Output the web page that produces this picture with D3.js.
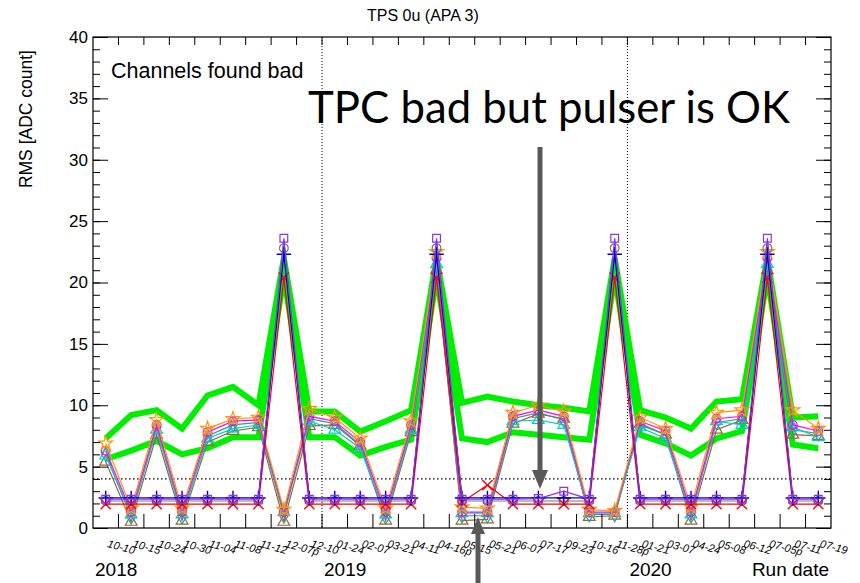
<!DOCTYPE html>
<html>
<head>
<meta charset="utf-8">
<script src="https://cdn.jsdelivr.net/npm/d3@7"></script>
<style>
  body { margin: 0; background: #fff; }
  svg { display: block; font-family: "Liberation Sans", Arial, sans-serif; }
</style>
</head>
<body>
<div id="chart"></div>
<script>
const W = 860;
const H = 583;
const margin = { top: 37, right: 29, bottom: 55, left: 93 };

// run dates (x categories)
const runDates = ["10-10", "10-15", "10-24", "10-30", "11-04", "11-08", "11-12", "12-07p",
  "12-10", "01-24", "02-07", "03-21", "04-11", "04-16p", "05-15", "05-21", "06-07", "07-17",
  "09-23", "10-16", "11-28p", "01-21", "03-07", "04-24", "05-08", "06-12", "07-05p", "07-11", "07-19"];

// year markers: first run of each year
const yearStarts = [
  { year: "2018", run: "10-10" },
  { year: "2019", run: "01-24" },
  { year: "2020", run: "01-21" }
];

const yMajorTicks = [0, 5, 10, 15, 20, 25, 30, 35, 40];
const badThreshold = 4;

// green reference band
const greenHigh = [7.3, 9.2, 9.6, 8.1, 10.8, 11.5, 10.0, 22.0, 9.5, 9.5, 7.85, 8.7, 9.6, 22.0, 10.2,
  10.7, 10.3, 10.0, 9.8, 9.5, 22.0, 9.6, 9.0, 8.1, 10.3, 10.5, 22.0, 9.0, 9.1];
const greenLow = [5.6, 6.3, 7.1, 6.0, 6.5, 7.4, 7.4, 20.5, 7.4, 7.4, 5.9, 6.6, 7.2, 20.5, 7.3,
  7.0, 7.8, 7.6, 7.4, 7.2, 20.5, 7.6, 6.9, 5.9, 7.3, 7.9, 20.5, 6.8, 6.5];

// channels, first group (bad when pulser runs are fine)
const chOrange = [6.9, 1.6, 8.8, 1.6, 8.1, 8.9, 9.0, 1.5, 9.7, 9.0, 7.3, 1.6, 8.7, 22.5, 1.7,
  1.6, 9.4, 10.0, 9.5, 1.5, 1.4, 9.0, 8.1, 1.7, 9.4, 9.6, 22.5, 9.6, 8.1];
const chMagenta = [6.3, 1.3, 8.4, 1.3, 7.8, 8.7, 8.8, 1.3, 9.1, 8.7, 7.0, 1.3, 8.4, 22.0, 1.3,
  1.3, 9.1, 9.6, 9.1, 1.3, 1.3, 8.7, 7.9, 1.3, 8.9, 9.1, 22.0, 8.4, 7.9];
const chTeal = [6.0, 0.9, 8.2, 0.9, 7.5, 8.4, 8.6, 1.0, 8.9, 8.5, 6.8, 0.9, 8.2, 20.8, 1.0,
  1.0, 8.9, 9.4, 8.8, 1.1, 1.1, 8.4, 7.6, 1.0, 8.6, 8.9, 20.8, 8.0, 7.7];
const chCyan = [5.9, 1.1, 8.0, 1.1, 7.3, 8.1, 8.4, 1.3, 8.7, 8.0, 6.5, 1.1, 8.0, 21.5, 1.2,
  1.2, 8.7, 8.8, 8.4, 1.2, 1.2, 8.2, 7.3, 1.1, 8.7, 8.4, 21.5, 8.2, 7.4];
const chBrown = [5.4, 0.5, 7.6, 0.6, 7.0, 7.9, 8.2, 0.5, 8.3, 8.4, 6.7, 0.6, 7.8, 21.0, 0.6,
  0.7, 8.5, 9.3, 8.9, 0.9, 1.0, 8.5, 7.6, 0.6, 8.0, 8.8, 21.0, 7.6, 7.5];

// channels, second group (low except pulser runs)
const chGray = [2.2, 2.2, 2.2, 2.2, 2.2, 2.2, 2.2, 22.8, 2.2, 2.2, 2.2, 2.2, 2.2, 22.8, 2.2,
  2.2, 2.2, 2.2, 2.2, 2.2, 22.8, 2.2, 2.2, 2.2, 2.2, 2.2, 22.8, 2.2, 2.2];
const chRed = [1.95, 1.95, 1.95, 1.95, 1.95, 1.95, 1.95, 20.4, 1.95, 1.95, 1.95, 1.95, 1.95, 20.4, 2.1,
  3.5, 1.95, 1.95, 1.95, 1.95, 20.4, 1.95, 1.95, 1.95, 1.95, 1.95, 20.4, 1.95, 1.95];
const chBlue = [2.45, 2.45, 2.45, 2.45, 2.45, 2.45, 2.45, 22.3, 2.45, 2.45, 2.45, 2.45, 2.45, 22.3, 2.45,
  2.45, 2.45, 2.45, 2.45, 2.45, 22.3, 2.45, 2.45, 2.45, 2.45, 2.45, 22.3, 2.45, 2.45];
const chViolet = [2.35, 2.35, 2.35, 2.35, 2.35, 2.35, 2.35, 23.6, 2.35, 2.35, 2.35, 2.35, 2.35, 23.6, 2.35,
  2.35, 2.35, 2.4, 3.0, 2.35, 23.6, 2.35, 2.35, 2.35, 2.35, 2.35, 23.6, 2.35, 2.35];

const symX = d3.symbolTimes || d3.symbolX || d3.symbolCross;

const channels = [
  { values: chBrown, color: "#996633", symbol: d3.symbolTriangle, open: true },
  { values: chTeal, color: "#339999", symbol: d3.symbolDiamond, open: true },
  { values: chCyan, color: "#00cccc", symbol: d3.symbolTriangle, open: true },
  { values: chMagenta, color: "#ff00ff", symbol: d3.symbolCircle, open: true },
  { values: chOrange, color: "#ff9900", symbol: d3.symbolStar, open: true },
  { values: chGray, color: "#777777", symbol: d3.symbolCircle, open: true },
  { values: chRed, color: "#ff0000", symbol: symX, open: false },
  { values: chBlue, color: "#0000cc", symbol: d3.symbolPlus, open: false },
  { values: chViolet, color: "#8833ee", symbol: d3.symbolSquare, open: true }
];

const svg = d3.select("#chart").append("svg")
  .attr("width", W)
  .attr("height", H)
  .style("background-color", "white");

const x = d3.scalePoint()
  .domain(runDates)
  .range([margin.left, W - margin.right])
  .padding(0.5);

const y = d3.scaleLinear()
  .domain([0, 40])
  .range([H - margin.bottom, margin.top]);

const step = x.step();
const binEdges = runDates.slice(1).map(d => x(d) - step / 2);

//Title
svg.append("text")
  .attr("x", 367)
  .attr("y", 21)
  .style("font-size", "16px")
  .text("TPS 0u (APA 3)");

//Reference lines
const yearRuns = yearStarts.slice(1).map(d => x(d.run) - step / 2);
svg.selectAll(".yearLine")
  .data(yearRuns)
  .enter()
  .append("line")
  .attr("x1", d => d)
  .attr("x2", d => d)
  .attr("y1", y(40))
  .attr("y2", y(0))
  .attr("stroke", "#000")
  .attr("stroke-width", 1)
  .attr("stroke-dasharray", "1,2");

svg.append("line")
  .attr("x1", x.range()[0])
  .attr("x2", x.range()[1])
  .attr("y1", y(badThreshold))
  .attr("y2", y(badThreshold))
  .attr("stroke", "#000")
  .attr("stroke-width", 1.3)
  .attr("stroke-dasharray", "1.5,2.5");

//Green band lines
const line = d3.line()
  .x((d, i) => x(runDates[i]))
  .y(d => y(d));

svg.selectAll(".band")
  .data([greenHigh, greenLow])
  .enter()
  .append("path")
  .attr("d", line)
  .attr("fill", "none")
  .attr("stroke", "#00ee00")
  .attr("stroke-width", 6)
  .attr("stroke-linejoin", "miter")
  .attr("stroke-miterlimit", 6);

//Channel lines and markers
channels.forEach(ch => {
  svg.append("path")
    .datum(ch.values)
    .attr("d", line)
    .attr("fill", "none")
    .attr("stroke", ch.color)
    .attr("stroke-width", 1.2);

  const sym = d3.symbol().type(ch.symbol).size(ch.open ? 60 : 70);
  svg.append("g")
    .selectAll("path")
    .data(ch.values)
    .enter()
    .append("path")
    .attr("transform", (d, i) => "translate(" + x(runDates[i]) + "," + y(d) + ")")
    .attr("d", sym)
    .attr("fill", "none")
    .attr("stroke", ch.color)
    .attr("stroke-width", ch.open ? 1.2 : 1.4);
});

//Frame
svg.append("rect")
  .attr("x", x.range()[0])
  .attr("y", y(40))
  .attr("width", x.range()[1] - x.range()[0])
  .attr("height", y(0) - y(40))
  .attr("fill", "none")
  .attr("stroke", "#000")
  .attr("stroke-width", 1.2);

//Y axes (ticks inside the frame)
const yLeft = svg.append("g")
  .attr("transform", "translate(" + margin.left + ",0)")
  .call(d3.axisLeft(y).tickValues(yMajorTicks).tickSizeInner(-15).tickSizeOuter(0).tickPadding(5));
yLeft.selectAll("text").style("font-size", "17px").attr("fill", "#000");

svg.append("g")
  .attr("transform", "translate(" + margin.left + ",0)")
  .call(d3.axisLeft(y).ticks(40).tickSizeInner(-7).tickSizeOuter(0).tickFormat(""));

svg.append("g")
  .attr("transform", "translate(" + (W - margin.right) + ",0)")
  .call(d3.axisRight(y).tickValues(yMajorTicks).tickSizeInner(-15).tickSizeOuter(0).tickFormat(""));

svg.append("g")
  .attr("transform", "translate(" + (W - margin.right) + ",0)")
  .call(d3.axisRight(y).ticks(40).tickSizeInner(-7).tickSizeOuter(0).tickFormat(""));

svg.selectAll(".domain").remove();
svg.selectAll(".tick line").attr("stroke", "#000");

//X ticks at bin edges
svg.selectAll(".xTickBottom")
  .data(binEdges)
  .enter()
  .append("line")
  .attr("x1", d => d)
  .attr("x2", d => d)
  .attr("y1", y(0))
  .attr("y2", y(0) - 14)
  .attr("stroke", "#000");

svg.selectAll(".xTickTop")
  .data(binEdges)
  .enter()
  .append("line")
  .attr("x1", d => d)
  .attr("x2", d => d)
  .attr("y1", y(40))
  .attr("y2", y(40) + 8)
  .attr("stroke", "#000");

//X labels (tilted)
svg.selectAll(".xLabel")
  .data(runDates)
  .enter()
  .append("text")
  .attr("transform", d => "translate(" + (x(d) + 1) + "," + 547 + ") rotate(15)")
  .style("font-size", "11px")
  .style("font-style", "italic")
  .text(d => d);

//Year labels
svg.selectAll(".year")
  .data(yearStarts)
  .enter()
  .append("text")
  .attr("x", (d, i) => i === 0 ? x.range()[0] + 2 : x(d.run) - step / 2 + 2)
  .attr("y", 576)
  .style("font-size", "19px")
  .text(d => d.year);

svg.append("text")
  .attr("x", 829)
  .attr("y", 576)
  .attr("text-anchor", "end")
  .style("font-size", "19px")
  .text("Run date");

//Y title
svg.append("text")
  .attr("transform", "translate(32,50) rotate(-90)")
  .attr("text-anchor", "end")
  .style("font-size", "17.5px")
  .text("RMS [ADC count]");

//Annotations
svg.append("text")
  .attr("x", 111)
  .attr("y", 78)
  .style("font-size", "21.5px")
  .text("Channels found bad");

svg.append("text")
  .attr("x", 308)
  .attr("y", 123)
  .attr("textLength", 482)
  .attr("lengthAdjust", "spacingAndGlyphs")
  .style("font-family", "Lato, 'Open Sans', sans-serif")
  .style("font-size", "44px")
  .text("TPC bad but pulser is OK");

const arrowColor = "#595959";
// down arrow
svg.append("line")
  .attr("x1", 540).attr("x2", 540)
  .attr("y1", 147).attr("y2", 472)
  .attr("stroke", arrowColor)
  .attr("stroke-width", 5);
svg.append("path")
  .attr("d", "M532,470 L548,470 L540,489 Z")
  .attr("fill", arrowColor);

// up arrow
svg.append("line")
  .attr("x1", 478).attr("x2", 478)
  .attr("y1", 583).attr("y2", 532)
  .attr("stroke", arrowColor)
  .attr("stroke-width", 5);
svg.append("path")
  .attr("d", "M471,534 L485,534 L478,517 Z")
  .attr("fill", arrowColor);
</script>
</body>
</html>
